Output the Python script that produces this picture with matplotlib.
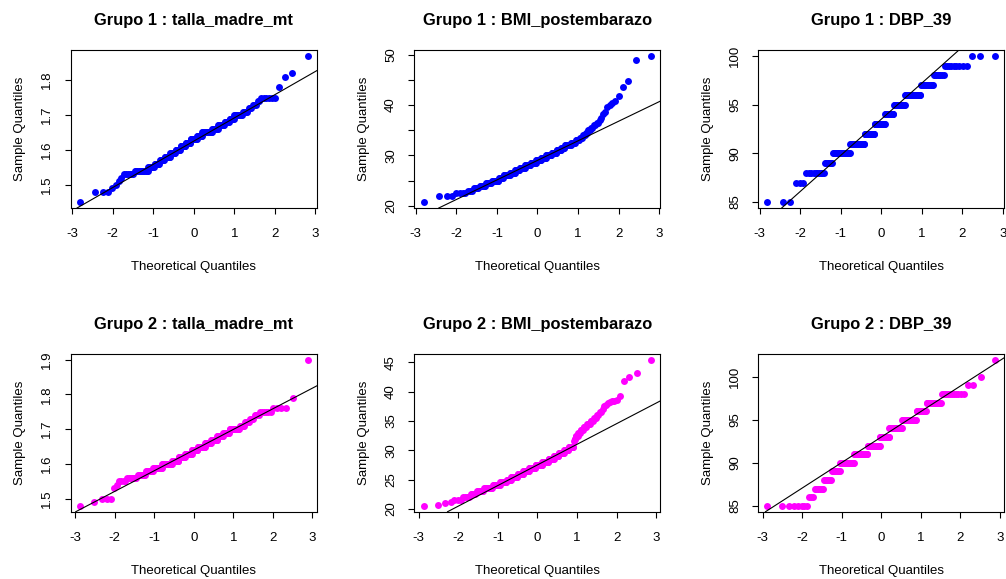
import matplotlib
matplotlib.use('Agg')
import matplotlib.pyplot as plt
import numpy as np
from statistics import NormalDist

plt.rcParams['font.family'] = ['Liberation Sans', 'DejaVu Sans']

# Grupo 1 (n = 200)
talla_g1_vals = [1.45, 1.48, 1.49, 1.50, 1.51, 1.52, 1.53, 1.54, 1.55, 1.56, 1.57,
                 1.58, 1.59, 1.60, 1.61, 1.62, 1.63, 1.64, 1.65, 1.66, 1.67, 1.68,
                 1.69, 1.70, 1.71, 1.72, 1.73, 1.74, 1.75, 1.78, 1.81, 1.82, 1.87]
talla_g1_counts = [1, 3, 1, 1, 1, 1, 6, 12, 7, 7, 7,
                   9, 9, 9, 10, 10, 12, 10, 19, 10, 10, 7,
                   6, 9, 5, 3, 3, 2, 6, 1, 1, 1, 1]

bmi_g1_vals = [20.7, 22.0, 22.5, 23.0, 23.5, 24.0, 24.5, 25.0, 25.5, 26.0, 26.5,
               27.0, 27.5, 28.0, 28.5, 29.0, 29.5, 30.0, 30.5, 31.0, 31.5, 32.0,
               32.5, 33.0, 33.5, 34.0, 34.5, 35.0, 35.5, 36.0, 36.5, 37.0, 37.5,
               38.2, 38.6, 39.6, 40.0, 40.4, 40.9, 41.8, 43.5, 44.8, 48.9, 49.8]
bmi_g1_counts = [1, 3, 4, 3, 4, 5, 6, 8, 6, 10, 8,
                 8, 10, 10, 11, 10, 10, 10, 9, 8, 6, 9,
                 6, 5, 3, 3, 2, 3, 2, 2, 2, 1, 1,
                 1, 1, 1, 1, 1, 1, 1, 1, 1, 1, 1]

dbp_g1_vals = [85, 86, 87, 88, 89, 90, 91, 92, 93, 94, 95, 96, 97, 98, 99, 100]
dbp_g1_counts = [3, 0, 3, 10, 7, 21, 24, 19, 20, 17, 20, 23, 13, 8, 9, 3]

# Grupo 2 (n = 250)
talla_g2_vals = [1.48, 1.49, 1.50, 1.53, 1.54, 1.55, 1.56, 1.57, 1.58, 1.59, 1.60,
                 1.61, 1.62, 1.63, 1.64, 1.65, 1.66, 1.67, 1.68, 1.69, 1.70, 1.71,
                 1.72, 1.73, 1.74, 1.75, 1.76, 1.79, 1.90]
talla_g2_counts = [1, 1, 3, 1, 1, 4, 8, 9, 10, 15, 20,
                   15, 15, 17, 15, 18, 14, 14, 12, 11, 15, 6,
                   5, 4, 4, 6, 4, 1, 1]

bmi_g2_vals = [20.5, 20.7, 21.0, 21.1, 21.5, 22.0, 22.5, 23.0, 23.5, 24.0, 24.5,
               25.0, 25.5, 26.0, 26.5, 27.0, 27.5, 28.0, 28.5, 29.0, 29.5, 30.0,
               30.5, 31.5, 32.0, 32.5, 33.0, 33.5, 34.0, 34.5, 35.0, 35.5,
               36.0, 36.5, 37.0, 37.5, 37.8, 38.0, 38.3, 38.4, 38.6, 39.2, 41.9,
               42.5, 43.2, 45.5]
bmi_g2_counts = [1, 1, 1, 1, 3, 4, 4, 7, 10, 11, 11,
                 9, 14, 13, 14, 16, 17, 15, 13, 11, 11, 9,
                 9, 1, 2, 4, 3, 4, 4, 4, 3, 3,
                 2, 2, 1, 1, 1, 1, 1, 2, 1, 1, 1,
                 1, 1, 1]

dbp_g2_vals = [85, 86, 87, 88, 89, 90, 91, 92, 93, 94, 95, 96, 97, 98, 99, 100, 101, 102]
dbp_g2_counts = [8, 3, 7, 8, 11, 24, 30, 30, 24, 30, 28, 15, 16, 12, 2, 1, 0, 1]

x_ticks = [-3, -2, -1, 0, 1, 2, 3]
talla_g1_yticks = [1.5, 1.6, 1.7, 1.8]
talla_g2_yticks = [1.5, 1.6, 1.7, 1.8, 1.9]
bmi_g1_yticks = [20, 25, 30, 35, 40, 45, 50]
bmi_g1_ylabels = ['20', '', '30', '', '40', '', '50']
bmi_g2_yticks = [20, 25, 30, 35, 40, 45]
dbp_yticks = [85, 90, 95, 100]

paneles = [
    ('Grupo 1 : talla_madre_mt', talla_g1_vals, talla_g1_counts, 'blue', talla_g1_yticks, None),
    ('Grupo 1 : BMI_postembarazo', bmi_g1_vals, bmi_g1_counts, 'blue', bmi_g1_yticks, bmi_g1_ylabels),
    ('Grupo 1 : DBP_39', dbp_g1_vals, dbp_g1_counts, 'blue', dbp_yticks, None),
    ('Grupo 2 : talla_madre_mt', talla_g2_vals, talla_g2_counts, 'magenta', talla_g2_yticks, None),
    ('Grupo 2 : BMI_postembarazo', bmi_g2_vals, bmi_g2_counts, 'magenta', bmi_g2_yticks, None),
    ('Grupo 2 : DBP_39', dbp_g2_vals, dbp_g2_counts, 'magenta', dbp_yticks, None),
]

nd = NormalDist()
fig = plt.figure(figsize=(10.06, 5.79), dpi=100)
lefts = [0.0703, 0.412, 0.7538]
bottoms = [0.6408, 0.1162]

for k, (titulo, vals, cnts, color, yt, ylab) in enumerate(paneles):
    ax = fig.add_axes([lefts[k % 3], bottoms[k // 3], 0.2445, 0.2729])
    muestra = np.repeat(vals, cnts)
    n = len(muestra)
    a = 3 / 8 if n <= 10 else 0.5
    p = (np.arange(1, n + 1) - a) / (n + 1 - 2 * a)
    teor = np.array([nd.inv_cdf(pi) for pi in p])
    ax.plot(teor, muestra, 'o', color=color, ms=5.0, mew=0)

    # qqline: recta por los cuartiles
    q = np.quantile(muestra, [0.25, 0.75])
    xq = np.array([nd.inv_cdf(0.25), nd.inv_cdf(0.75)])
    pend = (q[1] - q[0]) / (xq[1] - xq[0])
    ax.axline((xq[0], q[0]), slope=pend, color='black', lw=0.8)

    ax.margins(0.04)
    ax.set_xticks(x_ticks)
    ax.set_xticklabels([str(t) for t in x_ticks])
    ax.set_yticks(yt)
    if ylab is not None:
        ax.set_yticklabels(ylab)
    else:
        ax.set_yticklabels([('%g' % t) for t in yt])
    ax.tick_params(direction='out', length=4.5, width=0.8, labelsize=9.5)
    ax.tick_params(axis='x', pad=10)
    ax.tick_params(axis='y', pad=8)
    for lab in ax.get_yticklabels():
        lab.set_rotation(90)
        lab.set_va('center')
    for s in ax.spines.values():
        s.set_linewidth(0.8)
    ax.set_title(titulo, fontsize=11.9, fontweight='bold', pad=18)
    ax.set_xlabel('Theoretical Quantiles', fontsize=9.5, labelpad=15)
    ax.set_ylabel('Sample Quantiles', fontsize=9.5, labelpad=11)

fig.savefig('out.png', dpi=100)
